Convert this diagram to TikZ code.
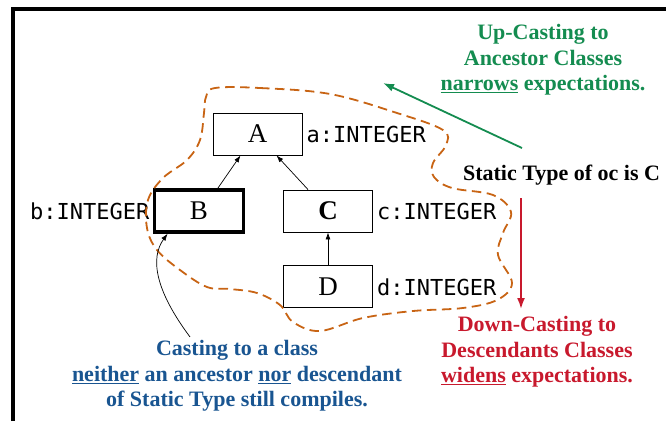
\documentclass[tikz,border=0pt]{standalone}
\usepackage{fontspec}
\setmainfont{Liberation Serif}
\setmonofont{DejaVu Sans Mono}
\usetikzlibrary{arrows.meta,positioning}

\definecolor{upgreen}{RGB}{20,140,80}
\definecolor{downred}{RGB}{200,25,45}
\definecolor{castblue}{RGB}{25,85,145}
\definecolor{blobcol}{RGB}{200,100,20}

\tikzset{
  cls/.style={draw, line width=0.9pt, minimum width=89pt, minimum height=42pt,
    inner sep=0pt, font=\fontsize{27}{27}\selectfont},
  attr/.style={inner sep=1pt, font=\ttfamily\fontsize{22}{22}\selectfont},
  note/.style={align=center, font=\bfseries\fontsize{22}{25.5}\selectfont},
  inherit/.style={-{Latex[length=7pt,width=5pt]}, line width=0.7pt},
}

\begin{document}
\begin{tikzpicture}[x=1pt, y=-1pt]
        \useasboundingbox (0,0) rectangle (666,421);
        % frame
        \draw[line width=4pt] (13,421) -- (13,9) -- (666,9);

        % Define classes
        \node[cls] (A) at (257.5,134) {A};
        \node[cls, font=\bfseries\fontsize{27}{27}\selectfont] (C) at (328,211) {C};
        \node[cls, line width=3.5pt] (B) [left=38pt of C] {B};
        \node[cls] (D) [below=33pt of C] {D};

        % attributes
        \node[attr, right=3pt of A] (a) {a:INTEGER};
        \node[attr, left=2pt of B] (b) {b:INTEGER};
        \node[attr, right=3pt of C] (c) {c:INTEGER};
        \node[attr, right=3pt of D] (d) {d:INTEGER};

        % Define inheritance
        \path[inherit]
        ([xshift=19pt]B.north) edge ([xshift=-17pt]A.south)
        ([xshift=-20pt]C.north) edge ([xshift=19pt]A.south)
        (D) edge (C);

        % expectations of oc
        \draw[blobcol, line width=1.8pt, dash pattern=on 9.5pt off 5.5pt]
          plot[smooth cycle, tension=0.6] coordinates {
          (215,88) (260,88) (330,94) (397,113) (443,130) (446,145) (433,163)
          (434,177) (452,188) (493,195) (511,212) (503,233) (498,255)
          (512,283) (497,300) (463,308) (413,311) (363,318) (320,331)
          (293,322) (280,305) (257,293) (230,289) (207,287) (180,270)
          (157,250) (147,228) (148,200) (163,178) (187,160) (200,140)
          (204,113) (206,97)};

        % Notes
        \node[note] (st) [anchor=base] at (561.5,180) {Static Type of oc is C};
        \node[note, text=upgreen] (up) at (543,60)
          {Up-Casting to\\Ancestor Classes\\\underline{narrows} expectations.};
        \node[note, text=downred] (down) at (537,352)
          {Down-Casting to\\Descendants Classes\\\underline{widens} expectations.};
        \node[note, text=castblue] (other) at (237,376)
          {Casting to a class\\\underline{neither} an ancestor \underline{nor} descendant\\of Static Type still compiles.};

        \coordinate (upFrom) at (522,148);
        \coordinate (upTo) at (383,83);
        \coordinate (downFrom) at (521,198);
        \draw[upgreen, line width=1.8pt, -{Latex[length=11pt,width=8pt]}] (upFrom) -- (upTo);
        \draw[downred, line width=1.8pt, -{Latex[length=11pt,width=8pt]}, shorten >=4pt]
          (downFrom) -- (downFrom |- down.north);
        \draw[line width=0.7pt, -{Latex[length=7pt,width=5pt]}]
          ([xshift=-47pt]other.north) .. controls (155,290) and (150,258) .. ([xshift=15pt]B.south west);
\end{tikzpicture}
\end{document}
